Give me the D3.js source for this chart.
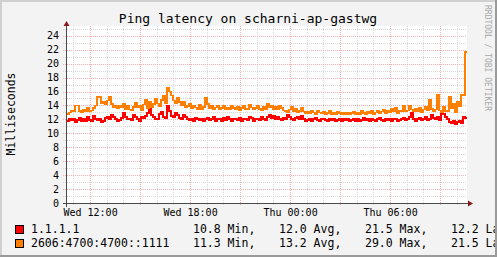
<!DOCTYPE html>
<html>
<head>
<meta charset="utf-8">
<script src="https://cdn.jsdelivr.net/npm/d3@7"></script>
<style>
  body { margin: 0; background: #f3f3f3; }
  svg { display: block; }
  text { font-family: "DejaVu Sans Mono", monospace; }
</style>
</head>
<body>
<main></main>
<script>
const w = 497;
const h = 257;
const plotLeft = 67;
const plotRight = 467;
const plotTop = 26;
const plotBottom = 203;

// series: one reading every 7.2 minutes over 24 hours
const start = new Date(2024, 0, 3, 10, 37);
const stepMs = 7.2 * 60 * 1000;

const cloudflareV4 = [
  11.8, 12.1, 11.9, 12.0, 11.6, 11.9, 12.2, 11.8, 12.0, 11.7,
  12.3, 11.9, 11.8, 12.5, 12.1, 11.9, 12.0, 11.6, 11.8, 12.2,
  12.4, 12.0, 12.7, 12.3, 12.0, 11.8, 11.9, 12.2, 12.9, 12.4,
  12.1, 12.0, 11.9, 12.6, 12.3, 12.0, 11.8, 12.4, 12.2, 12.5,
  12.9, 13.5, 12.6, 12.3, 12.1, 12.0, 12.8, 13.1, 12.4, 12.2,
  13.9, 13.2, 12.5, 12.4, 12.9, 12.6, 12.2, 12.0, 12.7, 12.3,
  12.1, 11.9, 12.0, 11.8, 12.2, 12.0, 11.9, 12.1, 11.7, 12.0,
  12.2, 11.9, 12.0, 12.3, 11.8, 12.1, 12.0, 11.8, 12.2, 11.9,
  12.4, 12.0, 11.8, 12.1, 12.0, 11.9, 12.2, 11.8, 12.0, 12.1,
  11.9, 12.4, 12.2, 11.8, 12.0, 12.1, 11.9, 12.3, 12.0, 11.9,
  12.3, 12.6, 12.2, 12.5, 12.0, 12.4, 12.1, 11.9, 12.2, 12.0,
  12.6, 12.3, 12.0, 11.9, 12.2, 12.4, 12.1, 12.5, 12.0, 11.8,
  11.9, 12.1, 11.8, 12.0, 12.2, 11.9, 11.7, 12.0, 12.1, 11.9,
  11.8, 12.0, 11.9, 12.1, 11.7, 11.9, 12.0, 11.8, 12.1, 11.9,
  12.0, 11.8, 11.9, 12.1, 11.8, 12.0, 11.7, 11.9, 12.2, 11.9,
  12.0, 11.8, 12.1, 11.9, 11.8, 12.0, 12.2, 11.9, 11.8, 12.0,
  11.9, 12.1, 11.8, 12.0, 12.1, 11.7, 11.9, 12.0, 12.2, 11.9,
  12.0, 12.3, 12.9, 12.1, 11.8, 12.0, 12.2, 11.9, 12.0, 12.4,
  11.9, 12.1, 12.6, 12.2, 12.0, 12.4, 11.9, 13.0, 12.8, 12.3,
  12.0, 11.6, 11.5, 11.7, 11.4, 11.6, 11.8, 11.5, 12.3, 12.2
];

const cloudflareV6 = [
  12.8, 13.0, 13.3, 13.1, 14.0, 14.0, 13.2, 13.0, 13.4, 13.2,
  13.7, 13.1, 13.3, 13.6, 14.0, 15.3, 15.2, 14.3, 14.6, 14.1,
  14.7, 15.2, 14.2, 13.8, 14.0, 13.6, 13.9, 13.7, 14.2, 13.5,
  13.9, 13.4, 13.3, 13.8, 14.4, 13.7, 13.9, 13.3, 14.1, 14.8,
  13.6, 14.6, 13.8, 14.2, 15.0, 14.3, 13.9, 14.8, 15.4, 14.3,
  16.6, 16.0, 15.4, 14.7, 14.3, 15.1, 14.5, 14.0, 14.6, 13.8,
  13.9, 14.2, 13.6, 14.0, 13.7, 13.5, 14.1, 13.4, 13.8, 15.1,
  14.2, 13.6, 13.9, 13.5, 13.7, 14.0, 13.4, 13.6, 13.9, 13.5,
  13.7, 13.4, 14.0, 13.6, 13.5, 13.8, 13.3, 13.6, 13.9, 13.4,
  13.5, 14.1, 13.7, 13.4, 13.6, 13.9, 13.5, 13.3, 13.8, 13.4,
  14.2, 13.7, 14.0, 13.5, 13.8, 13.4, 14.0, 13.6, 13.3, 13.2,
  13.0, 13.4, 13.8, 13.2, 13.5, 13.0, 13.2, 13.6, 13.1, 12.9,
  13.1, 12.9, 13.3, 13.0, 12.8, 13.2, 13.0, 12.9, 13.1, 12.8,
  12.9, 13.2, 12.7, 13.0, 12.8, 13.1, 12.9, 12.7, 13.0, 12.8,
  13.0, 12.8, 12.9, 13.1, 12.7, 13.0, 12.8, 13.2, 12.9, 12.8,
  13.1, 12.9, 13.3, 12.8, 13.0, 13.2, 12.9, 13.1, 13.4, 12.9,
  13.2, 13.0, 13.5, 13.1, 13.6, 12.9, 13.3, 13.1, 14.0, 13.2,
  13.3, 13.9, 13.4, 13.1, 13.5, 13.2, 13.6, 13.0, 13.4, 13.8,
  13.3, 14.8, 13.5, 13.2, 13.4, 15.5, 13.3, 13.0, 13.8, 13.2,
  13.1, 15.3, 13.6, 14.2, 13.0, 14.6, 13.9, 15.6, 15.4, 21.7
];

const seriesNames = ["1.1.1.1", "2606:4700:4700::1111"];
const seriesColors = ["#ff0000", "#ff8000"];
const statMin = ["10.8", "11.3"];
const statAvg = ["12.0", "13.2"];
const statMax = ["21.5", "29.0"];
const statLast = ["12.2", "21.5"];

const yTicks = d3.range(0, 25, 2);

const end = new Date(+start + cloudflareV4.length * stepMs);

const x = d3.scaleTime().domain([start, end]).range([plotLeft, plotRight]);
const y = d3.scaleLinear().domain([0, 25.4]).range([plotBottom, plotTop]);

const svg = d3
  .select("main")
  .append("svg")
  .attr("width", w)
  .attr("height", h);

svg.append("rect").attr("width", w).attr("height", h).attr("fill", "#f3f3f3");

svg
  .append("rect")
  .attr("x", plotLeft)
  .attr("y", plotTop)
  .attr("width", plotRight - plotLeft)
  .attr("height", plotBottom - plotTop)
  .attr("fill", "#ffffff");

// grid
const grid = svg.append("g").attr("shape-rendering", "crispEdges");

const hours = d3.timeHour.range(start, end);
grid
  .selectAll(".vgrid")
  .data(hours)
  .join("line")
  .attr("x1", (d) => Math.round(x(d)) + 0.5)
  .attr("x2", (d) => Math.round(x(d)) + 0.5)
  .attr("y1", plotTop)
  .attr("y2", plotBottom + 3)
  .attr("stroke", (d) => (d.getHours() % 3 === 0 ? "#f2b0b0" : "#d8d8d8"))
  .attr("stroke-dasharray", "1,1");

grid
  .selectAll(".hgrid")
  .data(d3.range(1, 26))
  .join("line")
  .attr("x1", plotLeft - 4)
  .attr("x2", plotRight)
  .attr("y1", (d) => Math.round(y(d)) + 0.5)
  .attr("y2", (d) => Math.round(y(d)) + 0.5)
  .attr("stroke", (d) => (d % 2 === 0 ? "#f2b0b0" : "#d8d8d8"))
  .attr("stroke-dasharray", "1,1");

// series lines
const line = d3
  .line()
  .curve(d3.curveStepAfter)
  .x((d) => x(d[0]))
  .y((d) => y(d[1]));

function toPoints(values) {
  const pts = values.map((v, i) => [new Date(+start + i * stepMs), v]);
  pts.push([end, values[values.length - 1]]);
  return pts;
}

svg
  .append("path")
  .datum(toPoints(cloudflareV4))
  .attr("d", line)
  .attr("fill", "none")
  .attr("stroke", seriesColors[0])
  .attr("stroke-width", 2)
  .attr("shape-rendering", "crispEdges");

svg
  .append("path")
  .datum(toPoints(cloudflareV6))
  .attr("d", line)
  .attr("fill", "none")
  .attr("stroke", seriesColors[1])
  .attr("stroke-width", 1.5)
  .attr("shape-rendering", "crispEdges");

// axes
const yAxis = svg
  .append("g")
  .attr("transform", `translate(${plotLeft}, 0)`)
  .call(d3.axisLeft(y).tickValues(yTicks).tickSize(0).tickPadding(8));
yAxis.select(".domain").remove();
yAxis.selectAll("text").attr("font-size", 10).attr("fill", "#000");

const xAxis = svg
  .append("g")
  .attr("transform", `translate(0, ${plotBottom})`)
  .call(
    d3
      .axisBottom(x)
      .ticks(d3.timeHour.every(6))
      .tickFormat(d3.timeFormat("%a %H:%M"))
      .tickSize(0)
      .tickPadding(6)
  );
xAxis.select(".domain").remove();
xAxis.selectAll("text").attr("font-size", 10).attr("fill", "#000");

svg
  .append("line")
  .attr("x1", plotLeft - 4)
  .attr("x2", plotRight + 2)
  .attr("y1", plotBottom + 0.5)
  .attr("y2", plotBottom + 0.5)
  .attr("stroke", "#4a4a4a");

svg
  .append("line")
  .attr("x1", plotLeft - 0.5)
  .attr("x2", plotLeft - 0.5)
  .attr("y1", plotBottom + 4)
  .attr("y2", plotTop - 1)
  .attr("stroke", "#4a4a4a");

svg
  .append("path")
  .attr("d", `M${plotRight + 1},${plotBottom - 2.5}L${plotRight + 6},${plotBottom + 0.5}L${plotRight + 1},${plotBottom + 3.5}Z`)
  .attr("fill", "#8b1a1a");

svg
  .append("path")
  .attr("d", `M${plotLeft - 3.5},${plotTop}L${plotLeft - 0.5},${plotTop - 5}L${plotLeft + 2.5},${plotTop}Z`)
  .attr("fill", "#8b1a1a");

// titles
svg
  .append("text")
  .attr("x", 248)
  .attr("y", 23)
  .attr("text-anchor", "middle")
  .attr("font-size", 13)
  .text("Ping latency on scharni-ap-gastwg");

svg
  .append("text")
  .attr("transform", "translate(15, 114) rotate(-90)")
  .attr("text-anchor", "middle")
  .attr("font-size", 11.5)
  .text("Milliseconds");

svg
  .append("text")
  .attr("transform", "translate(485, 5) rotate(90)")
  .attr("font-size", 8)
  .attr("fill", "#a8a8a8")
  .text("RRDTOOL / TOBI OETIKER");

// legend
const legend = svg
  .selectAll(".legend")
  .data(seriesNames)
  .join("g")
  .attr("transform", (d, i) => `translate(0, ${233 + i * 14})`);

legend
  .append("rect")
  .attr("x", 15.5)
  .attr("y", -7.5)
  .attr("width", 8)
  .attr("height", 8)
  .attr("fill", (d, i) => seriesColors[i])
  .attr("stroke", "#000");

const legendCols = [
  { x: 31, f: (d) => d },
  { x: 193, f: (d, i) => `${statMin[i]} Min,` },
  { x: 279, f: (d, i) => `${statAvg[i]} Avg,` },
  { x: 365, f: (d, i) => `${statMax[i]} Max,` },
  { x: 451, f: (d, i) => `${statLast[i]} Last` },
];

legendCols.forEach((col) => {
  legend
    .append("text")
    .attr("x", col.x)
    .attr("y", 0)
    .attr("font-size", 11.5)
    .text(col.f);
});

// 3d frame
svg.append("rect").attr("x", 0).attr("y", 0).attr("width", w).attr("height", 2).attr("fill", "#d0d0d0");
svg.append("rect").attr("x", 0).attr("y", 0).attr("width", 2).attr("height", h).attr("fill", "#d0d0d0");
svg.append("rect").attr("x", w - 2).attr("y", 0).attr("width", 2).attr("height", h).attr("fill", "#9a9a9a");
svg.append("rect").attr("x", 0).attr("y", h - 2).attr("width", w).attr("height", 2).attr("fill", "#9a9a9a");
</script>
</body>
</html>
